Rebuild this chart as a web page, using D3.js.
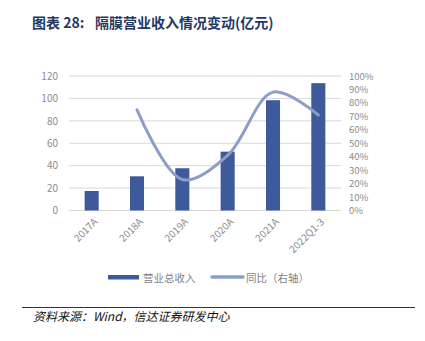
<!DOCTYPE html>
<html><head><meta charset="utf-8">
<script src="https://cdn.jsdelivr.net/npm/d3@7"></script>
<style>body{margin:0;background:#fff}svg{display:block}</style>
</head><body>
<script>
const categories = ["2017A","2018A","2019A","2020A","2021A","2022Q1-3"];
const revenue = [17.4, 30.5, 37.7, 52.5, 98.4, 113.6];
const yoy = [null, 74.8, 23, 41, 88, 71];
const leftTicks = [0,20,40,60,80,100,120];
const rightTicks = [0,10,20,30,40,50,60,70,80,90,100];
const titleA = "图表 28:";
const titleB = "隔膜营业收入情况变动(亿元)";
const source = "资料来源：Wind，信达证券研发中心";
const legendNames = ["营业总收入","同比（右轴）"];

const W=425,H=341;
const svg=d3.select("body").append("svg").attr("width",W).attr("height",H);
const font="'Noto Sans CJK SC','Noto Sans',sans-serif";

const t=svg.append("text").attr("x",32).attr("y",28)
  .attr("font-family",font).attr("font-weight","bold").attr("font-size",14).attr("fill","#1f3864");
t.append("tspan").text(titleA);
t.append("tspan").attr("x",95).text(titleB);

const x=d3.scaleBand().domain(categories).range([69,341]).paddingInner(0.69).paddingOuter(0.345);
const yL=d3.scaleLinear().domain([0,120]).range([210.5,76]);
const yR=d3.scaleLinear().domain([0,100]).range([210.5,76]);

svg.append("g").selectAll("line").data(leftTicks).join("line")
  .attr("x1",69).attr("x2",341).attr("y1",d=>yL(d)).attr("y2",d=>yL(d))
  .attr("stroke","#d9d9d9").attr("stroke-width",1);

const gL=svg.append("g").attr("transform","translate(58,0)")
  .call(d3.axisLeft(yL).tickValues(leftTicks).tickSize(0).tickPadding(0));
gL.select(".domain").remove();
gL.selectAll("text").attr("font-family",font).attr("font-size",10).attr("fill","#8c8c8c");

const gR=svg.append("g").attr("transform","translate(349,0)")
  .call(d3.axisRight(yR).tickValues(rightTicks).tickSize(0).tickPadding(0).tickFormat(d=>d+"%"));
gR.select(".domain").remove();
gR.selectAll("text").attr("font-family",font).attr("font-size",9.5).attr("fill","#8c8c8c");

svg.append("g").selectAll("rect").data(categories).join("rect")
  .attr("x",d=>x(d)).attr("width",x.bandwidth())
  .attr("y",(d,i)=>yL(revenue[i])).attr("height",(d,i)=>yL(0)-yL(revenue[i]))
  .attr("fill","#3e5a9b");

const pts=categories.map((c,i)=>[x(c)+x.bandwidth()/2,yoy[i]]).filter(p=>p[1]!=null);
svg.append("path").datum(pts)
  .attr("d",d3.line().x(d=>d[0]).y(d=>yR(d[1])).curve(d3.curveCatmullRom.alpha(0.5)))
  .attr("fill","none").attr("stroke","#8c9dcb").attr("stroke-width",3).attr("stroke-linecap","round");

const gX=svg.append("g").attr("transform","translate(0,214)")
  .call(d3.axisBottom(x).tickSize(0).tickPadding(0));
gX.select(".domain").remove();
gX.selectAll("text").attr("font-family",font).attr("font-size",10).attr("fill","#8c8c8c")
  .attr("text-anchor","end").attr("dy","0.5em")
  .attr("transform","translate(3,5) rotate(-45)");

const lg=svg.append("g");
lg.append("rect").attr("x",108).attr("y",275).attr("width",31).attr("height",4.5).attr("fill","#3e5a9b");
lg.append("text").attr("x",143).attr("y",281.5).text(legendNames[0])
  .attr("font-family",font).attr("font-size",10.5).attr("fill","#7f7f7f");
lg.append("line").attr("x1",212).attr("x2",243).attr("y1",277).attr("y2",277)
  .attr("stroke","#8c9dcb").attr("stroke-width",3.5).attr("stroke-linecap","round");
lg.append("text").attr("x",246).attr("y",281.5).text(legendNames[1])
  .attr("font-family",font).attr("font-size",10.5).attr("fill","#7f7f7f");

svg.append("line").attr("x1",22).attr("x2",415).attr("y1",307.5).attr("y2",307.5)
  .attr("stroke","#333").attr("stroke-width",1);
svg.append("text").attr("x",33).attr("y",321).text(source)
  .attr("font-family",font).attr("font-style","italic").attr("font-size",12).attr("fill","#111");
</script>
</body></html>
